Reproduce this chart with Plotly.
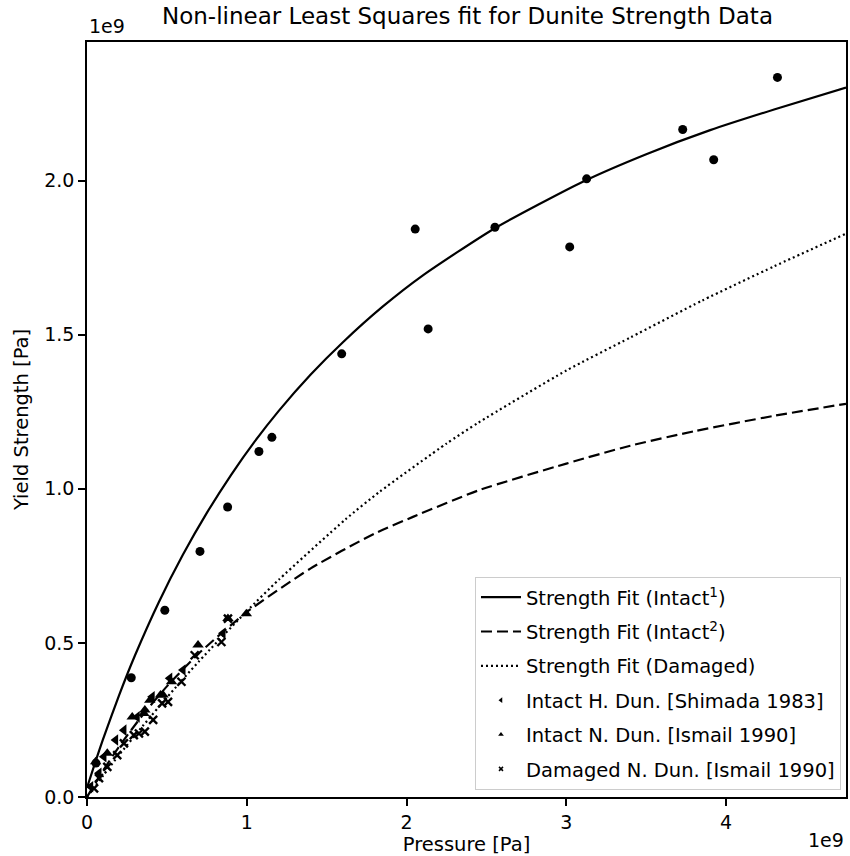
import plotly.graph_objects as go

# ---- data (pressure and strength in units of 1e9 Pa) ----
# fitted curves
fit1_p = [0, 0.05, 0.1, 0.2, 0.3, 0.45, 0.6, 0.75, 0.9, 1.05, 1.2, 1.4, 1.6, 1.85, 2.1, 2.55, 3.1, 3.5, 3.9, 4.3, 4.75]
fit1_y = [0.03, 0.11, 0.187, 0.329, 0.459, 0.633, 0.786, 0.922, 1.044, 1.154, 1.253, 1.371, 1.475, 1.591, 1.692, 1.845, 1.996, 2.086, 2.164, 2.231, 2.302]

fit2_p = [0, 0.1, 0.2, 0.35, 0.5, 0.7, 1.0, 1.4, 1.8, 2.04, 2.45, 3.0, 3.4, 3.8, 4.3, 4.75]
fit2_y = [0, 0.085, 0.163, 0.267, 0.359, 0.466, 0.6, 0.742, 0.855, 0.909, 0.995, 1.082, 1.14, 1.187, 1.237, 1.276]

fitd_p = [0, 0.1, 0.2, 0.35, 0.5, 0.7, 1.0, 1.2, 1.62, 1.83, 2.25, 2.45, 3.0, 3.4, 3.85, 4.3, 4.75]
fitd_y = [0, 0.069, 0.136, 0.231, 0.323, 0.44, 0.603, 0.705, 0.902, 0.99, 1.147, 1.215, 1.384, 1.491, 1.611, 1.722, 1.828]

# high-pressure data (circles, not in legend)
circ_p = [0.056, 0.277, 0.487, 0.707, 0.880, 1.076, 1.157, 1.594, 2.054, 2.135, 2.553, 3.021, 3.127, 3.728, 3.922, 4.321]
circ_y = [0.110, 0.387, 0.606, 0.797, 0.941, 1.121, 1.167, 1.438, 1.843, 1.519, 1.849, 1.785, 2.006, 2.166, 2.068, 2.335]

# Intact H. Dun. [Shimada 1983]
shim_p = [0.023, 0.075, 0.106, 0.179, 0.231, 0.314, 0.408, 0.518, 0.601, 0.851]
shim_y = [0.033, 0.077, 0.131, 0.185, 0.217, 0.260, 0.325, 0.385, 0.412, 0.531]

# Intact N. Dun. [Ismail 1990]
isi_p = [0.054, 0.127, 0.283, 0.356, 0.362, 0.393, 0.460, 0.476, 0.529, 0.695, 0.882, 0.997]
isi_y = [0.114, 0.142, 0.260, 0.271, 0.282, 0.314, 0.331, 0.331, 0.374, 0.493, 0.579, 0.595]

# Damaged N. Dun. [Ismail 1990]
isd_p = [0.044, 0.075, 0.127, 0.189, 0.231, 0.293, 0.325, 0.362, 0.414, 0.470, 0.507, 0.591, 0.674, 0.841, 0.882]
isd_y = [0.028, 0.061, 0.098, 0.136, 0.174, 0.201, 0.206, 0.212, 0.250, 0.304, 0.309, 0.374, 0.460, 0.503, 0.579]

x_ticks = [0, 1, 2, 3, 4]
y_ticks = [0, 0.5, 1.0, 1.5, 2.0]
y_ticktext = ["0.0", "0.5", "1.0", "1.5", "2.0"]

FONT = "DejaVu Sans"
fig = go.Figure()

line_kw = dict(color="black", width=2.2)
fig.add_trace(go.Scatter(x=fit1_p, y=fit1_y, mode="lines", line=dict(**line_kw, shape="spline", smoothing=0.6),
                         name="Strength Fit (Intact<sup>1</sup>)", legendgroup="a"))
fig.add_trace(go.Scatter(x=fit2_p, y=fit2_y, mode="lines", line=dict(**line_kw, dash="11px,5px", shape="spline", smoothing=0.6),
                         name="Strength Fit (Intact<sup>2</sup>)", legendgroup="b"))
fig.add_trace(go.Scatter(x=fitd_p, y=fitd_y, mode="lines", line=dict(**line_kw, dash="2px,3px", shape="spline", smoothing=0.6),
                         name="Strength Fit (Damaged)", legendgroup="c"))

fig.add_trace(go.Scatter(x=circ_p, y=circ_y, mode="markers", marker=dict(symbol="circle", size=9, color="black"),
                         showlegend=False))
fig.add_trace(go.Scatter(x=shim_p, y=shim_y, mode="markers", marker=dict(symbol="triangle-left", size=10, color="black"),
                         showlegend=False))
fig.add_trace(go.Scatter(x=isi_p, y=isi_y, mode="markers", marker=dict(symbol="triangle-up", size=10, color="black"),
                         showlegend=False))
fig.add_trace(go.Scatter(x=isd_p, y=isd_y, mode="markers", marker=dict(symbol="x-thin", size=8, color="black",
                         line=dict(color="black", width=2.4)), showlegend=False))

# legend entries with small markers as in the reference
fig.add_trace(go.Scatter(x=[None], y=[None], mode="markers", marker=dict(symbol="triangle-left", size=5, color="black"),
                         name="Intact H. Dun. [Shimada 1983]", legendgroup="d"))
fig.add_trace(go.Scatter(x=[None], y=[None], mode="markers", marker=dict(symbol="triangle-up", size=5, color="black"),
                         name="Intact N. Dun. [Ismail 1990]", legendgroup="e"))
fig.add_trace(go.Scatter(x=[None], y=[None], mode="markers", marker=dict(symbol="x-thin", size=4, color="black",
                         line=dict(color="black", width=1.5)),
                         name="Damaged N. Dun. [Ismail 1990]", legendgroup="f"))

axis_common = dict(showline=True, linecolor="black", linewidth=1.5, mirror=True, ticks="outside", ticklen=7,
                   tickwidth=1.5, tickcolor="black", showgrid=False, zeroline=False,
                   tickfont=dict(family=FONT, size=19, color="black"))

fig.update_layout(
    width=850, height=856,
    margin=dict(l=87, r=2, t=42, b=59),
    paper_bgcolor="white", plot_bgcolor="white",
    font=dict(family=FONT, size=19, color="black"),
    title=dict(text="Non-linear Least Squares fit for Dunite Strength Data", x=0.55, xanchor="center",
               y=1 - 16 / 856, yanchor="middle", font=dict(family=FONT, size=23, color="black")),
    xaxis=dict(range=[0, 4.75], tickvals=x_ticks, **axis_common,
               title=dict(text="Pressure [Pa]", standoff=2, font=dict(family=FONT, size=19.5))),
    yaxis=dict(range=[0, 2.45], tickvals=y_ticks, ticktext=y_ticktext, **axis_common,
               title=dict(text="Yield Strength [Pa]", standoff=10, font=dict(family=FONT, size=19.5))),
    legend=dict(x=0.9934, y=0.0093, xanchor="right", yanchor="bottom", bgcolor="rgba(255,255,255,0.8)",
                bordercolor="#cccccc", borderwidth=1, font=dict(family=FONT, size=19.5, color="black"),
                traceorder="grouped", tracegroupgap=6, itemwidth=40),
    showlegend=True,
    annotations=[
        dict(text="1e9", xref="paper", yref="paper", x=0, y=1, xanchor="left", yanchor="bottom", yshift=3,
             showarrow=False, font=dict(family=FONT, size=19, color="black")),
        dict(text="1e9", xref="paper", yref="paper", x=1, y=0, xanchor="right", yanchor="top", yshift=-30,
             showarrow=False, font=dict(family=FONT, size=19, color="black")),
    ],
)

fig.write_html("out.html")
